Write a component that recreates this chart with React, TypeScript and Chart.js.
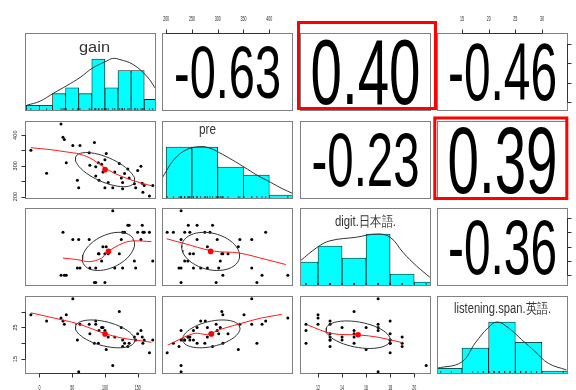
import React, { useEffect, useRef } from "react";
import { Chart, registerables } from "chart.js";

Chart.register(...registerables);

const W = 576;
const H = 390;

// ---------------- data ----------------
const varLabels = ["gain", "pre", "digit.日本語.", "listening.span.英語."];

const gain = [-13, 11, 33, 36, 38, 41, 51, 58, 60, 62, 76, 77, 84, 86, 86, 90, 91, 95, 97, 100, 100, 102, 105, 112, 115, 122, 125, 127, 127, 130, 135, 137, 145, 147, 150, 155, 157, 158, 160, 168, 173];
const pre = [351, 276, 436, 393, 386, 310, 366, 253, 229, 366, 343, 302, 376, 267, 297, 310, 253, 305, 280, 229, 320, 340, 246, 229, 280, 308, 260, 246, 225, 275, 290, 260, 242, 229, 285, 299, 243, 214, 236, 202, 236];
const digit: (number | null)[] = [null, null, 12, 18, 12, 12, 17, 13, 17, 13, 17, 13, 11, 13, 11, 15, 15, 14, 16, 11, 15, 16, 15, 21, 13, 15, 17, 18, 13, 18, 19, 19, 14, 13, 18, 17, 19, 18, 18, 18, 14];
const listening = [29, 27, 28, 27, 26, 29, 34, 21, 11, 26, 26, 23, 20, 27, 26, 20, 24, 25, 25, 24, 23, 18, 22, 13, 22, 30, 25, 21, 19, 20, 19, 20, 22, 21, 23, 24, 22, 20, 21, 17, 21];

// axis ranges of each variable
const gainRange = [-22, 178];
const preRange = [192, 446];
const digitRange = [10.5, 21.4];
const listeningRange = [10.3, 34.9];

// histograms
const gainBreaks = [-20, 0, 20, 40, 60, 80, 100, 120, 140, 160, 180];
const gainCounts = [1, 1, 3, 4, 3, 9, 4, 7, 7, 2];
const preBreaks = [200, 250, 300, 350, 400, 450];
const preCounts = [13, 13, 8, 6, 1];
const digitBreaks = [10, 12, 14, 16, 18, 20, 22];
const digitCounts = [6, 10, 7, 13, 3, 1];
const listeningBreaks = [10, 15, 20, 25, 30, 35];
const listeningCounts = [2, 9, 18, 11, 1];

// density curves (in count units)
const gainDensity = [[-19, 1.0], [1, 1.7], [21, 3.05], [42, 4.4], [62, 5.8], [82, 7.5], [102, 8.6], [112, 9.1], [123, 8.9], [143, 8.05], [164, 6.0], [179, 3.6]];
const preDensity = [[192, 5.2], [215, 9.8], [239, 12.3], [264, 13.1], [283, 12.8], [303, 11.6], [328, 9.8], [351, 8.0], [377, 5.9], [402, 4.2], [425, 2.6], [446, 1.35]];
const digitDensity = [[10.5, 6.2], [11.9, 9.6], [13, 11.3], [15.2, 12.2], [16.9, 13.0], [18, 12.2], [19.1, 8.3], [20.2, 5.0], [21.3, 2.2]];
const listeningDensity = [[10.3, 2.0], [14.9, 4.1], [17.5, 10.8], [19.9, 16.0], [21.6, 18.0], [23.7, 16.0], [26.2, 11.9], [28.7, 7.8], [31.2, 3.7], [34.6, 1.4]];

// correlations, pairs (0,1),(0,2),(0,3),(1,2),(1,3),(2,3)
const corrValues = [-0.63, 0.4, -0.46, -0.23, 0.39, -0.36];
const corrLabels = ["-0.63", "0.40", "-0.46", "-0.23", "0.39", "-0.36"];

// loess smooths
const smoothGainPre = [[-13, 359], [16, 353], [42, 345], [62, 338], [82, 320], [102, 290], [123, 268], [143, 252], [171, 235]];
const smoothGainDigit = [[36, 14.4], [57, 14.2], [77, 13.9], [95, 14.4], [102, 15.1], [113, 15.8], [128, 16.5], [143, 16.8], [171, 16.7]];
const smoothGainListening = [[-13, 29.6], [36, 27.3], [61, 26], [102, 22.9], [127, 21.6], [147, 21], [171, 20.3]];
const smoothPreDigit = [[201, 17.1], [232, 16.5], [290, 15.4], [342, 15.1], [394, 14.2], [432, 13.5]];
const smoothPreListening = [[203, 19.4], [254, 23.1], [280, 22.8], [306, 24.4], [351, 26.5], [383, 27.9], [424, 29.1]];
const smoothDigitListening = [[11.1, 25.8], [13.1, 23.1], [15.4, 22.6], [17, 21.9], [19, 20.2]];

// ticks
const gainTicks = [0, 50, 100, 150];
const gainBottomLabels = ["0", "50", "100", "150"];
const preTicks = [200, 250, 300, 350, 400];
const preTopLabels = ["200", "250", "300", "350", "400"];
const preLeftLabels = ["200", "", "300", "", "400"];
const digitTicks = [12, 14, 16, 18, 20];
const digitBottomLabels = ["12", "14", "16", "18", "20"];
const listeningTicks = [15, 20, 25, 30];
const listeningTopLabels = ["15", "20", "25", "30"];
const listeningLeftLabels = ["15", "", "25", ""];

// highlighted panels [row, col]
const highlightPanels = [[0, 2], [1, 3]];

// ---------------- layout / style ----------------
const colX = [25, 162, 300, 437];
const rowY = [33, 121, 208, 296];
const PW = 131;
const PH = 78;
const FONT = '"Liberation Sans", Arial, sans-serif';
const highlightInsets = [
  { l: -1.5, t: -10.5, r: 4.5, b: -2.5 },
  { l: -2.2, t: -3, r: -1.2, b: -0.5 },
];
const diagLabelStyle = [
  { dx: 4, base: 19, w: 31 },
  { dx: -20, base: 13, w: 17 },
  { dx: 0, base: 18, w: 61 },
  { dx: 0, base: 17, w: 97 },
];
// digit height / text width of the correlation numbers, same order as corrLabels
const corrTextSize = [
  { h: 52, w: 107 },
  { h: 65, w: 110 },
  { h: 57, w: 109 },
  { h: 53, w: 108 },
  { h: 66, w: 110 },
  { h: 55, w: 109 },
];

const vars: (number | null)[][] = [gain, pre, digit, listening];
const ranges = [gainRange, preRange, digitRange, listeningRange];
const breaksList = [gainBreaks, preBreaks, digitBreaks, listeningBreaks];
const countsList = [gainCounts, preCounts, digitCounts, listeningCounts];
const densityList = [gainDensity, preDensity, digitDensity, listeningDensity];
const smoothMap: Record<string, number[][]> = {
  "1-0": smoothGainPre,
  "2-0": smoothGainDigit,
  "3-0": smoothGainListening,
  "2-1": smoothPreDigit,
  "3-1": smoothPreListening,
  "3-2": smoothDigitListening,
};
const corrIndex: Record<string, number> = { "0-1": 0, "0-2": 1, "0-3": 2, "1-2": 3, "1-3": 4, "2-3": 5 };

function mean(a: number[]) {
  return a.reduce((s, v) => s + v, 0) / a.length;
}
function sd(a: number[]) {
  const m = mean(a);
  return Math.sqrt(a.reduce((s, v) => s + (v - m) * (v - m), 0) / (a.length - 1));
}

// psych::draw.ellipse (1 sd)
function ellipse(xm: number, ym: number, xs: number, ys: number, r: number) {
  const seg = 51;
  const th = r !== 0 ? Math.sign(r) / Math.SQRT2 : 1 / Math.SQRT2;
  const a = Math.sqrt(1 + r);
  const b = Math.sqrt(1 - r);
  const s00 = a * th, s01 = a * th, s10 = -b * th, s11 = b * th;
  const pts = [];
  for (let k = 0; k <= seg; k++) {
    const ang = (k * 2 * Math.PI) / seg;
    const c = Math.cos(ang), s = Math.sin(ang);
    pts.push({ x: (c * s00 + s * s10) * xs + xm, y: (c * s01 + s * s11) * ys + ym });
  }
  return pts;
}

type AxisSpec = { side: "top" | "bottom" | "left" | "right"; ticks: number[]; labels: string[] };

function axesFor(r: number, c: number): AxisSpec[] {
  const list: AxisSpec[] = [];
  if (r === 0 && c === 1) list.push({ side: "top", ticks: preTicks, labels: preTopLabels });
  if (r === 0 && c === 3) list.push({ side: "top", ticks: listeningTicks, labels: listeningTopLabels });
  if (r === 3 && c === 0) list.push({ side: "bottom", ticks: gainTicks, labels: gainBottomLabels });
  if (r === 3 && c === 2) list.push({ side: "bottom", ticks: digitTicks, labels: digitBottomLabels });
  if (c === 0 && r === 1) list.push({ side: "left", ticks: preTicks, labels: preLeftLabels });
  if (c === 0 && r === 3) list.push({ side: "left", ticks: listeningTicks, labels: listeningLeftLabels });
  if (c === 3 && r === 0) list.push({ side: "right", ticks: gainTicks, labels: [] });
  if (c === 3 && r === 2) list.push({ side: "right", ticks: digitTicks, labels: [] });
  return list;
}

function drawAxis(ctx: CanvasRenderingContext2D, chart: any, ax: AxisSpec) {
  const a = chart.chartArea;
  const xs = chart.scales.x;
  const ys = chart.scales.y;
  ctx.save();
  ctx.strokeStyle = "#333";
  ctx.fillStyle = "#222";
  ctx.lineWidth = 1;
  if (ax.side === "top" || ax.side === "bottom") {
    const y = ax.side === "top" ? a.top + 0.5 : a.bottom - 0.5;
    const d = ax.side === "top" ? -4 : 4;
    const px = ax.ticks.map((t) => xs.getPixelForValue(t));
    ctx.beginPath();
    ctx.moveTo(px[0], y);
    ctx.lineTo(px[px.length - 1], y);
    px.forEach((p) => {
      ctx.moveTo(Math.round(p) + 0.5, y);
      ctx.lineTo(Math.round(p) + 0.5, y + d);
    });
    ctx.stroke();
    ctx.font = `6.5px ${FONT}`;
    ctx.textAlign = "center";
    ctx.textBaseline = "alphabetic";
    ax.labels.forEach((lab, i) => {
      if (!lab) return;
      ctx.save();
      ctx.translate(px[i], ax.side === "top" ? a.top - 12.5 : a.bottom + 16);
      ctx.scale(0.55, 1);
      ctx.fillText(lab, 0, 0);
      ctx.restore();
    });
  } else {
    const x = ax.side === "left" ? a.left + 0.5 : a.right - 0.5;
    const d = ax.side === "left" ? -4 : 4;
    const py = ax.ticks.map((t) => ys.getPixelForValue(t));
    ctx.beginPath();
    ctx.moveTo(x, py[0]);
    ctx.lineTo(x, py[py.length - 1]);
    py.forEach((p) => {
      ctx.moveTo(x, Math.round(p) + 0.5);
      ctx.lineTo(x + d, Math.round(p) + 0.5);
    });
    ctx.stroke();
    ctx.font = `5.5px ${FONT}`;
    ctx.textAlign = "center";
    ctx.textBaseline = "alphabetic";
    ax.labels.forEach((lab, i) => {
      if (!lab) return;
      ctx.save();
      ctx.translate(ax.side === "left" ? a.left - 7.7 : a.right + 12, py[i]);
      ctx.rotate(-Math.PI / 2);
      ctx.fillText(lab, 0, 0);
      ctx.restore();
    });
  }
  ctx.restore();
}

function pairs(xv: (number | null)[], yv: (number | null)[]) {
  const out: { x: number; y: number }[] = [];
  xv.forEach((v, i) => {
    const w = yv[i];
    if (v !== null && w !== null) out.push({ x: v, y: w });
  });
  return out;
}

function buildConfig(r: number, c: number): any {
  const left = colX[c];
  const top = rowY[r];
  const xr = ranges[c];
  let yr = ranges[r];
  const datasets: any[] = [];
  let type = "scatter";

  if (r === c) {
    type = "bar";
    const br = breaksList[c];
    const cnt = countsList[c];
    yr = [0, 1.5 * Math.max(...cnt)];
    datasets.push({
      type: "line",
      data: densityList[c].map((p) => ({ x: p[0], y: p[1] })),
      borderColor: "#333",
      borderWidth: 1,
      pointRadius: 0,
      tension: 0.4,
      fill: false,
      order: 0,
      clip: 0,
    });
    datasets.push({
      type: "bar",
      data: cnt.map((n, i) => ({ x: (br[i] + br[i + 1]) / 2, y: n })),
      backgroundColor: "#00FFFF",
      borderColor: "#1a1a1a",
      borderWidth: 0.8,
      borderSkipped: false,
      barThickness: (PW * (br[1] - br[0])) / (xr[1] - xr[0]),
      categoryPercentage: 1,
      barPercentage: 1,
      grouped: false,
      order: 1,
      clip: 0,
    });
  } else if (r > c) {
    const pts = pairs(vars[c], vars[r]);
    const xv = pts.map((p) => p.x);
    const yv = pts.map((p) => p.y);
    const rr = corrValues[corrIndex[`${c}-${r}`]];
    const xm = mean(xv), ym = mean(yv);
    datasets.push({
      data: [{ x: xm, y: ym }],
      pointRadius: 2.8,
      pointBackgroundColor: "#ff0000",
      pointBorderWidth: 0,
      order: 0,
      clip: 0,
    });
    datasets.push({
      data: smoothMap[`${r}-${c}`].map((p) => ({ x: p[0], y: p[1] })),
      showLine: true,
      borderColor: "#ff1a1a",
      borderWidth: 1,
      pointRadius: 0,
      tension: 0.35,
      order: 1,
      clip: 0,
    });
    datasets.push({
      data: ellipse(xm, ym, sd(xv), sd(yv), rr),
      showLine: true,
      borderColor: "#333",
      borderWidth: 1,
      pointRadius: 0,
      tension: 0,
      order: 2,
      clip: 0,
    });
    datasets.push({
      data: pts,
      pointRadius: 1.5,
      pointBackgroundColor: "#000",
      pointBorderWidth: 0,
      order: 3,
      clip: 0,
    });
  }

  const axes = axesFor(r, c);
  const hlIdx = highlightPanels.findIndex((p) => p[0] === r && p[1] === c);

  const panelPlugin = {
    id: "panelDeco",
    afterDraw(chart: any) {
      const ctx: CanvasRenderingContext2D = chart.ctx;
      const a = chart.chartArea;
      ctx.save();
      if (r === c) {
        // rug
        ctx.strokeStyle = "#000";
        ctx.lineWidth = 0.6;
        ctx.beginPath();
        vars[c].forEach((v) => {
          if (v === null) return;
          const px = chart.scales.x.getPixelForValue(v);
          ctx.moveTo(px, a.bottom);
          ctx.lineTo(px, a.bottom - 3);
        });
        ctx.stroke();
        // variable name
        const st = diagLabelStyle[c];
        ctx.font = `14px ${FONT}`;
        const w = ctx.measureText(varLabels[c]).width;
        ctx.fillStyle = "#333";
        ctx.textAlign = "center";
        ctx.textBaseline = "alphabetic";
        ctx.save();
        ctx.translate(a.left + PW / 2 + st.dx, a.top + st.base);
        ctx.scale(st.w / w, 1);
        ctx.fillText(varLabels[c], 0, 0);
        ctx.restore();
      }
      if (r < c) {
        // correlation number
        const idx = corrIndex[`${r}-${c}`];
        const txt = corrLabels[idx];
        const size = corrTextSize[idx];
        ctx.font = `100px ${FONT}`;
        const m = ctx.measureText(txt);
        const asc = m.actualBoundingBoxAscent || 71.6;
        const F = (100 * size.h) / asc;
        ctx.font = `${F}px ${FONT}`;
        const m2 = ctx.measureText(txt);
        const sx = size.w / m2.width;
        const a2 = m2.actualBoundingBoxAscent || 0.716 * F;
        const d2 = m2.actualBoundingBoxDescent || 0;
        ctx.fillStyle = "#000";
        ctx.textAlign = "center";
        ctx.textBaseline = "alphabetic";
        ctx.save();
        ctx.translate(a.left + PW / 2, a.top + PH / 2 + (a2 - d2) / 2);
        ctx.scale(sx, 1);
        ctx.fillText(txt, 0, 0);
        ctx.restore();
      }
      // panel border
      ctx.strokeStyle = "#808080";
      ctx.lineWidth = 1;
      ctx.strokeRect(a.left + 0.5, a.top + 0.5, a.right - a.left - 1, a.bottom - a.top - 1);
      axes.forEach((ax) => drawAxis(ctx, chart, ax));
      if (hlIdx >= 0) {
        const ins = highlightInsets[hlIdx];
        ctx.strokeStyle = "#ff0000";
        ctx.lineWidth = 3;
        ctx.strokeRect(a.left + ins.l, a.top + ins.t, a.right + ins.r - (a.left + ins.l), a.bottom + ins.b - (a.top + ins.t));
      }
      ctx.restore();
    },
  };

  return {
    type,
    data: { datasets },
    options: {
      responsive: false,
      maintainAspectRatio: false,
      animation: false,
      devicePixelRatio: 1,
      events: [],
      layout: {
        padding: { left, top, right: W - left - PW, bottom: H - top - PH },
      },
      plugins: { legend: { display: false }, tooltip: { enabled: false }, title: { display: false } },
      scales: {
        x: { type: "linear", display: false, min: xr[0], max: xr[1], offset: false, grid: { offset: false } },
        y: { type: "linear", display: false, min: yr[0], max: yr[1] },
      },
    },
    plugins: [panelPlugin],
  };
}

export default function App() {
  const refs = useRef<(HTMLCanvasElement | null)[]>([]);
  useEffect(() => {
    const charts: Chart[] = [];
    for (let r = 0; r < 4; r++) {
      for (let c = 0; c < 4; c++) {
        const cv = refs.current[r * 4 + c];
        if (cv) charts.push(new Chart(cv, buildConfig(r, c)));
      }
    }
    return () => charts.forEach((ch) => ch.destroy());
  }, []);
  return (
    <div style={{ position: "fixed", left: 0, top: 0, width: W, height: H, background: "#fff", overflow: "hidden" }}>
      {Array.from({ length: 16 }).map((_, i) => (
        <canvas
          key={i}
          ref={(el) => {
            refs.current[i] = el;
          }}
          width={W}
          height={H}
          style={{ position: "absolute", left: 0, top: 0, width: W, height: H }}
        />
      ))}
    </div>
  );
}
